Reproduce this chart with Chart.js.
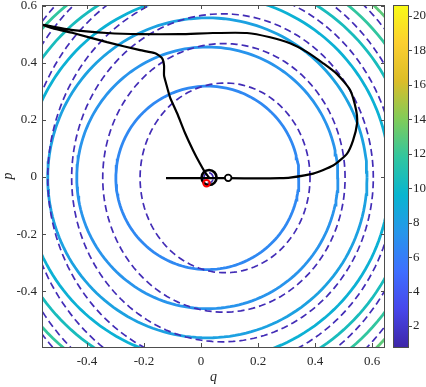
<!DOCTYPE html>
<html>
<head>
<meta charset="utf-8">
<script src="https://cdn.jsdelivr.net/npm/chart.js@4.4.0/dist/chart.umd.min.js"></script>
<style>
  html, body { margin: 0; padding: 0; background: #fff; }
</style>
</head>
<body>
<canvas id="chart" width="426" height="387"></canvas>
<script>
// axis ticks
const xTicks = [-0.4, -0.2, 0, 0.2, 0.4, 0.6];
const yTicks = [-0.4, -0.2, 0, 0.2, 0.4, 0.6];
const cbTicks = [2, 4, 6, 8, 10, 12, 14, 16, 18, 20];
const cbRange = [0.78, 20.64];

// solid contours (circles)
const solidCenter = [0.022, -0.003];
const solidRadii = [0.321, 0.458, 0.560, 0.640, 0.715, 0.780, 0.840];
const solidLevels = [6.6, 7.3, 8.2, 9.3, 10.5, 11.8, 13.0];

// dashed contours (slightly squashed, shifted right)
const dashCenterQ = [0.026, 0.084, 0.080, 0.075, 0.072, 0.066, 0.062, 0.062, 0.060];
const dashCenterP = -0.003;
const dashA = [0.016, 0.298, 0.425, 0.529, 0.610, 0.683, 0.754, 0.800, 0.845];
const dashB = [0.018, 0.332, 0.470, 0.574, 0.663, 0.742, 0.819, 0.865, 0.912];

// trajectory
const trajQ = [-0.123, -0.004, 0.095, 0.207, 0.277, 0.312, 0.393, 0.463, 0.512, 0.533, 0.547, 0.544,
  0.523, 0.477, 0.428, 0.372, 0.312, 0.242, 0.161, 0.042, -0.074, -0.214, -0.330, -0.449, -0.512, -0.558,
  -0.512, -0.449, -0.330, -0.214, -0.161, -0.137, -0.130, -0.130, -0.123, -0.109, -0.084, -0.056, -0.028,
  -0.004, 0.014, 0.028];
const trajP = [-0.004, -0.004, -0.004, -0.005, -0.004, -0.002, 0.012, 0.040, 0.082, 0.128, 0.188, 0.233,
  0.304, 0.360, 0.398, 0.437, 0.468, 0.489, 0.504, 0.504, 0.500, 0.500, 0.504, 0.514, 0.525, 0.533,
  0.518, 0.504, 0.472, 0.444, 0.433, 0.416, 0.391, 0.356, 0.328, 0.279, 0.223, 0.153, 0.093,
  0.047, 0.016, -0.002];

// markers
const endMarker = [0.028, -0.002];
const redMarker = [0.019, -0.022];
const startMarker = [0.095, -0.003];

const parulaStops = [[62,38,168],[71,71,235],[62,111,255],[39,150,235],[8,181,208],
  [49,198,159],[129,204,89],[220,189,41],[252,207,48],[249,251,21]];
function parula(t) {
  t = Math.max(0, Math.min(1, t));
  const f = t * 9, i = Math.min(8, Math.floor(f)), u = f - i;
  const a = parulaStops[i], b = parulaStops[i + 1];
  return 'rgb(' + [0, 1, 2].map(k => Math.round(a[k] + (b[k] - a[k]) * u)).join(',') + ')';
}
function levelColor(v) { return parula((v - cbRange[0]) / (cbRange[1] - cbRange[0])); }

function ellipse(cq, cp, a, b) {
  const pts = [];
  for (let d = 0; d <= 360; d += 2) {
    const t = d * Math.PI / 180;
    pts.push({ x: cq + a * Math.cos(t), y: cp + b * Math.sin(t) });
  }
  return pts;
}

const datasets = [];
datasets.push({ data: [{ x: redMarker[0], y: redMarker[1] }], pointRadius: 3.2, borderWidth: 2,
  pointBorderColor: '#ff0000', pointBackgroundColor: 'rgba(0,0,0,0)', order: 0 });
datasets.push({ data: [{ x: startMarker[0], y: startMarker[1] }], pointRadius: 3.3, borderWidth: 1.8,
  pointBorderColor: '#000', pointBackgroundColor: '#fff', order: 0 });
datasets.push({ data: [{ x: endMarker[0], y: endMarker[1] }], pointRadius: 7.5, borderWidth: 2.6,
  pointBorderColor: '#000', pointBackgroundColor: 'rgba(0,0,0,0)', order: 0 });
datasets.push({ data: trajQ.map((q, i) => ({ x: q, y: trajP[i] })), showLine: true, pointRadius: 0,
  borderColor: '#000', borderWidth: 2.2, tension: 0.2, clip: 0, order: 1 });
dashA.forEach((a, i) => {
  datasets.push({ data: ellipse(dashCenterQ[i], dashCenterP, a, dashB[i]), showLine: true, pointRadius: 0,
    borderColor: 'rgb(66,44,182)', borderWidth: 1.7, borderDash: [7, 4], clip: 0, order: 2 });
});
solidRadii.forEach((r, i) => {
  datasets.push({ data: ellipse(solidCenter[0], solidCenter[1], r, r), showLine: true, pointRadius: 0,
    borderColor: levelColor(solidLevels[i]), borderWidth: 2.8, clip: 0, order: 3 });
});

const tickFont = { family: 'Liberation Serif', size: 13 };
const axisColor = '#4d4d4d';

// keep the plot box where the reference has it
function noPad(s) { s.paddingTop = 0; s.paddingBottom = 0; s.paddingLeft = 0; s.paddingRight = 0; }

const framePlugin = {
  id: 'frame',
  beforeDraw(chart) {
    const cb = chart.scales.cb, ca = chart.chartArea;
    const ctx = chart.ctx;
    const g = ctx.createLinearGradient(0, cb.getPixelForValue(cbRange[1]), 0, cb.getPixelForValue(cbRange[0]));
    parulaStops.slice().reverse().forEach((c, i) => g.addColorStop(i / 9, 'rgb(' + c.join(',') + ')'));
    ctx.save();
    ctx.fillStyle = g;
    ctx.fillRect(393, ca.top, 16, ca.bottom - ca.top);
    ctx.restore();
  },
  afterDraw(chart) {
    const { ctx, chartArea: ca, scales } = chart;
    ctx.save();
    ctx.strokeStyle = axisColor;
    ctx.lineWidth = 1;
    ctx.strokeRect(Math.round(ca.left) + 0.5, Math.round(ca.top) + 0.5,
      Math.round(ca.right - ca.left) - 1, Math.round(ca.bottom - ca.top));
    ctx.beginPath();
    xTicks.forEach(v => {
      const x = Math.round(scales.x.getPixelForValue(v)) + 0.5;
      ctx.moveTo(x, ca.bottom); ctx.lineTo(x, ca.bottom - 4);
      ctx.moveTo(x, ca.top); ctx.lineTo(x, ca.top + 4);
    });
    yTicks.forEach(v => {
      const y = Math.round(scales.y.getPixelForValue(v)) + 0.5;
      ctx.moveTo(ca.left, y); ctx.lineTo(ca.left + 4, y);
      ctx.moveTo(ca.right, y); ctx.lineTo(ca.right - 4, y);
    });
    ctx.stroke();
    // colorbar frame and ticks
    ctx.strokeRect(393.5, Math.round(ca.top) + 0.5, 15, Math.round(ca.bottom - ca.top));
    ctx.beginPath();
    cbTicks.forEach(v => {
      const y = Math.round(scales.cb.getPixelForValue(v)) + 0.5;
      ctx.moveTo(409, y); ctx.lineTo(412, y);
    });
    ctx.stroke();
    ctx.restore();
  }
};

new Chart(document.getElementById('chart'), {
  type: 'scatter',
  data: { datasets },
  plugins: [framePlugin],
  options: {
    responsive: false,
    animation: false,
    devicePixelRatio: 1,
    layout: { autoPadding: false, padding: { top: 5, right: 0, left: 0, bottom: 0 } },
    plugins: { legend: { display: false }, tooltip: { enabled: false } },
    scales: {
      x: {
        type: 'linear', position: 'bottom', min: -0.558, max: 0.645,
        afterBuildTicks: s => { s.ticks = xTicks.map(v => ({ value: v })); },
        afterFit: s => { s.height = 40; noPad(s); },
        grid: { display: false, drawTicks: false },
        border: { display: false },
        ticks: { font: tickFont, color: '#262626', padding: 7, maxRotation: 0, autoSkip: false,
          callback: v => String(v) },
        title: { display: true, text: 'q', font: { family: 'Liberation Serif', size: 14, style: 'italic' },
          color: '#262626', padding: { top: 0, bottom: 1 } }
      },
      y: {
        type: 'linear', position: 'left', min: -0.595, max: 0.602,
        afterBuildTicks: s => { s.ticks = yTicks.map(v => ({ value: v })); },
        afterFit: s => { s.width = 42; noPad(s); },
        grid: { display: false, drawTicks: false },
        border: { display: false },
        ticks: { font: tickFont, color: '#262626', padding: 5, autoSkip: false,
          callback: v => String(v) },
        title: { display: true, text: 'p', font: { family: 'Liberation Serif', size: 14, style: 'italic' },
          color: '#262626', padding: { top: 0, bottom: 0 } }
      },
      cb: {
        type: 'linear', axis: 'y', position: 'right', min: cbRange[0], max: cbRange[1],
        afterBuildTicks: s => { s.ticks = cbTicks.map(v => ({ value: v })); },
        afterFit: s => { s.width = 41; noPad(s); },
        grid: { display: false, drawTicks: false },
        border: { display: false },
        ticks: { font: tickFont, color: '#262626', padding: 28, autoSkip: false }
      }
    }
  }
});
</script>
</body>
</html>
